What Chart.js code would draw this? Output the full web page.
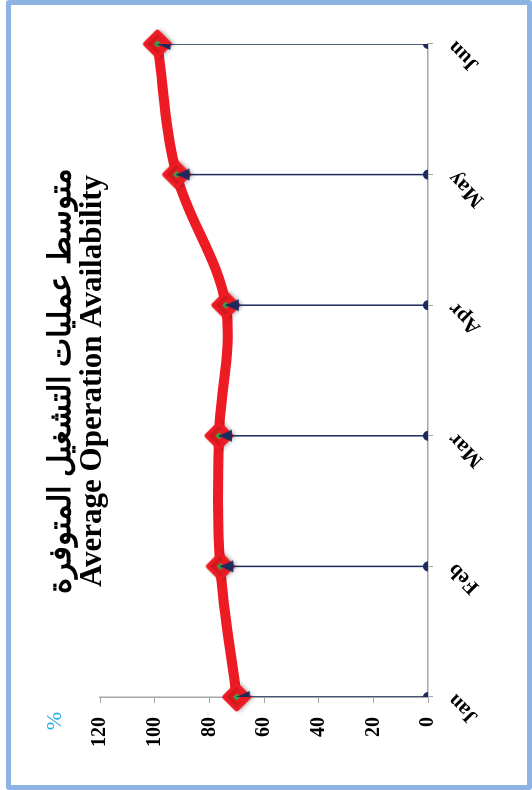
<!DOCTYPE html>
<html>
<head>
<meta charset="utf-8">
<script src="https://cdn.jsdelivr.net/npm/chart.js@4.4.0/dist/chart.umd.min.js"></script>
<style>
  html, body { margin: 0; padding: 0; background: #fff; }
  #page { position: relative; width: 532px; height: 790px; overflow: hidden; }
  #rot { position: absolute; left: 0; top: 0; width: 790px; height: 532px;
         transform-origin: 0 0; transform: translateY(790px) rotate(-90deg); }
  #frame { position: absolute; left: 6px; top: 0; width: 526px; height: 790px;
           box-sizing: border-box; border: 5px solid #8db3e2; border-radius: 3px; pointer-events: none; }
</style>
</head>
<body>
<div id="page">
  <div id="rot"><canvas id="availChart" width="790" height="532"></canvas></div>
  <div id="frame"></div>
</div>
<script>
const months = ["Jan", "Feb", "Mar", "Apr", "May", "Jun"];
const availability = [70, 76, 76.5, 74, 92, 99];
const yTicks = [0, 20, 40, 60, 80, 100, 120];
const titleLines = ["متوسط عمليات التشغيل المتوفرة", "Average Operation Availability"];
const unitLabel = "%";

const red = "#ed1c24";
const navy = "#1c2a5e";
const green = "#2eaa4a";
const axisGrey = "#a6a6a6";

// red diamond with a green centre and a soft shadow
function makeDiamond() {
  const c = document.createElement("canvas");
  c.width = 48;
  c.height = 48;
  const g = c.getContext("2d");
  g.shadowColor = "rgba(0,0,0,0.22)";
  g.shadowBlur = 4;
  g.shadowOffsetY = 2.5;
  g.beginPath();
  g.moveTo(24, 11.5);
  g.lineTo(36.5, 24);
  g.lineTo(24, 36.5);
  g.lineTo(11.5, 24);
  g.closePath();
  g.fillStyle = red;
  g.strokeStyle = red;
  g.lineWidth = 4;
  g.lineJoin = "round";
  g.fill();
  g.stroke();
  g.shadowColor = "transparent";
  g.beginPath();
  g.moveTo(24, 20.5);
  g.lineTo(27.5, 24);
  g.lineTo(24, 27.5);
  g.lineTo(20.5, 24);
  g.closePath();
  g.fillStyle = green;
  g.fill();
  return c;
}

// arrow head whose tip sits on the point
function makeArrow() {
  const c = document.createElement("canvas");
  c.width = 30;
  c.height = 30;
  const g = c.getContext("2d");
  g.beginPath();
  g.moveTo(15, 15);
  g.lineTo(21, 28);
  g.lineTo(9, 28);
  g.closePath();
  g.fillStyle = navy;
  g.fill();
  return c;
}

const diamondImg = makeDiamond();
const arrowImg = makeArrow();

// drop lines: base, top, gap for every month
const dropData = [];
months.forEach((m, i) => {
  dropData.push({ x: m, y: 0 }, { x: m, y: availability[i] }, { x: m, y: null });
});

const unitPlugin = {
  id: "unitLabel",
  afterDraw(chart) {
    const { ctx, chartArea } = chart;
    ctx.save();
    ctx.font = '22px "Liberation Serif"';
    ctx.fillStyle = "#29abe2";
    ctx.textAlign = "center";
    ctx.textBaseline = "middle";
    ctx.fillText(unitLabel, chartArea.left - 24, chartArea.top - 45);
    ctx.restore();
  },
};

const ctx = document.getElementById("availChart").getContext("2d");
new Chart(ctx, {
  type: "line",
  data: {
    labels: months,
    datasets: [
      {
        label: "Drop lines",
        data: dropData,
        borderColor: navy,
        borderWidth: 1.5,
        backgroundColor: navy,
        pointStyle: (c) => ["circle", arrowImg, false][c.dataIndex % 3],
        pointRadius: (c) => [5, 8, 0][c.dataIndex % 3],
        pointBorderWidth: 0,
        spanGaps: false,
        clip: 0,
        order: 0,
      },
      {
        label: "Availability",
        data: availability,
        borderColor: red,
        borderWidth: 10,
        tension: 0.35,
        pointStyle: diamondImg,
        pointRadius: 12,
        clip: false,
        order: 1,
      },
    ],
  },
  options: {
    responsive: false,
    animation: false,
    events: [],
    layout: { padding: { left: 30, right: 2, top: 0, bottom: 0 } },
    plugins: {
      legend: { display: false },
      tooltip: { enabled: false },
      title: {
        display: true,
        text: titleLines,
        color: "#000",
        font: { family: '"Liberation Serif"', size: 31, weight: "bold", lineHeight: 1.0 },
        padding: { top: 46.5, bottom: -8.5 },
      },
    },
    scales: {
      x: {
        type: "category",
        offset: false,
        grid: { display: true, drawOnChartArea: false, tickLength: 5, color: axisGrey },
        border: { display: true, color: axisGrey, width: 1.5 },
        ticks: {
          color: "#000",
          font: { family: '"Liberation Serif"', size: 21, weight: "bold" },
          minRotation: 45,
          maxRotation: 45,
          padding: 10,
        },
        afterFit: (s) => { s.height = 104; },
      },
      y: {
        min: yTicks[0],
        max: yTicks[yTicks.length - 1],
        ticks: {
          stepSize: yTicks[1] - yTicks[0],
          color: "#000",
          font: { family: '"Liberation Serif"', size: 20, weight: "bold" },
          padding: 14,
        },
        grid: { display: true, drawOnChartArea: false, tickLength: 6, color: axisGrey },
        border: { display: true, color: axisGrey, width: 1.5 },
        afterFit: (s) => { s.width = 63; },
      },
      // empty right-hand margin so the title centres like the original
      yRight: {
        position: "right",
        display: true,
        ticks: { display: false },
        grid: { display: false },
        border: { display: false },
        afterFit: (s) => { s.width = 42; },
      },
    },
  },
  plugins: [unitPlugin],
});
</script>
</body>
</html>
